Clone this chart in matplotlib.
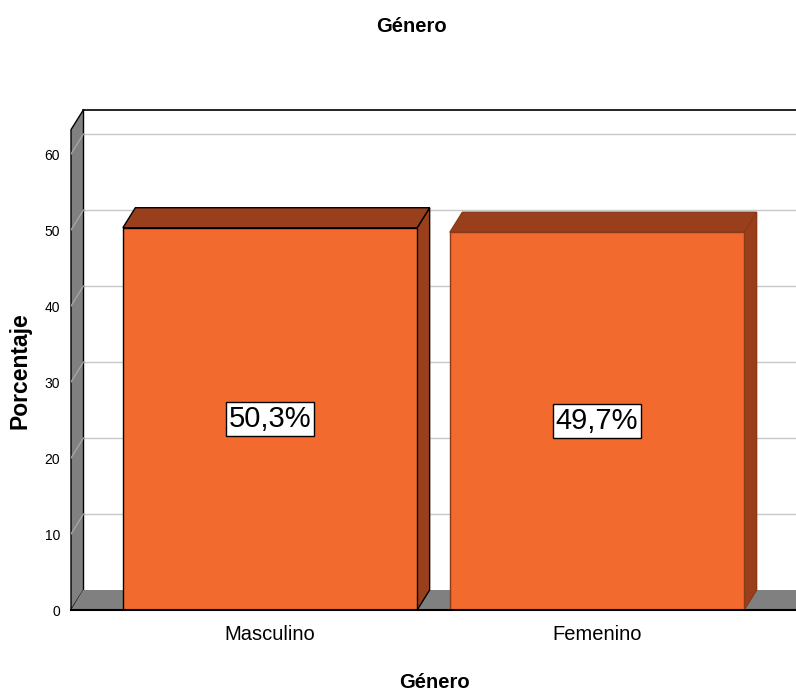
import matplotlib

matplotlib.use("Agg")
import matplotlib.pyplot as plt
from matplotlib.patches import Polygon, Rectangle

categories = ["Masculino", "Femenino"]
percentages = [50.3, 49.7]
value_labels = ["50,3%", "49,7%"]
y_ticks = [0, 10, 20, 30, 40, 50, 60]

_FRONT = "#f26a2d"
_SHADE = "#9a3f1c"
_WALL = "#808080"
_GRID = "#c8c8c8"
_EDGES = ["#000000", "#8a3a18"]

plt.rcParams["font.family"] = ["Liberation Sans", "DejaVu Sans"]

W, H = 796, 693
px_per_unit = 7.6          # pixels per percentage point
ytop = 500 / px_per_unit   # axes height in data units
wall_top = 63.2
bar_w = 0.9
x0, x1 = -0.6086, 1.6086
dx = 12.5 / 327            # depth offset in x units
dy = 20 / px_per_unit      # depth offset in y units

fig = plt.figure(figsize=(W / 100, H / 100), dpi=100)
ax = fig.add_axes([71 / W, 83 / H, (W - 71) / W, 500 / H])
ax.set_xlim(x0, x1)
ax.set_ylim(0, ytop)
for s in ax.spines.values():
    s.set_visible(False)

# back wall grid lines
for v in y_ticks[1:]:
    ax.plot([x0 + dx, x1 + 1], [v + dy, v + dy], color=_GRID, lw=1.0, zorder=1,
            clip_on=False)
ax.plot([x0 + dx, x1 + 1], [wall_top + dy, wall_top + dy], color="black", lw=1.2,
        zorder=1, clip_on=False)

# side wall and floor
ax.add_patch(Polygon([(x0, 0), (x0 + dx, dy), (x0 + dx, wall_top + dy), (x0, wall_top)],
                     closed=True, facecolor=_WALL, edgecolor="black", lw=1.0, zorder=2,
                     clip_on=False))
for v in y_ticks[1:]:
    ax.plot([x0, x0 + dx], [v, v + dy], color="#a8a8a8", lw=0.9, zorder=3)
ax.add_patch(Polygon([(x0, 0), (x1 + 1, 0), (x1 + 1, dy), (x0 + dx, dy)],
                     closed=True, facecolor=_WALL, edgecolor="none", zorder=2,
                     clip_on=False))
ax.plot([x0, x1 + 1], [0, 0], color="black", lw=1.5, zorder=6, clip_on=False)

# bars
for i, (v, lab) in enumerate(zip(percentages, value_labels)):
    left, right = i - bar_w / 2, i + bar_w / 2
    ec = _EDGES[i]
    ax.add_patch(Polygon([(right, 0), (right + dx, dy), (right + dx, v + dy), (right, v)],
                         closed=True, facecolor=_SHADE, edgecolor=ec, lw=1.0, zorder=4,
                         clip_on=False))
    ax.add_patch(Polygon([(left, v), (right, v), (right + dx, v + dy), (left + dx, v + dy)],
                         closed=True, facecolor=_SHADE, edgecolor=ec, lw=1.0, zorder=4,
                         clip_on=False))
    ax.add_patch(Rectangle((left, 0), bar_w, v, facecolor=_FRONT, edgecolor=ec, lw=1.0,
                           zorder=5))
    ax.text(i, v / 2, lab, ha="center", va="center", fontsize=21, zorder=7,
            bbox={"boxstyle": "square,pad=0.1", "facecolor": "white",
                  "edgecolor": "black", "lw": 1.0})

ax.set_yticks(y_ticks)
ax.set_yticklabels([str(t) for t in y_ticks], fontsize=10)
ax.set_xticks(range(len(categories)))
ax.set_xticklabels(categories, fontsize=14.5)
ax.tick_params(axis="y", length=0, pad=8)
ax.tick_params(axis="x", length=0, pad=11)

fig.text(411 / W, 1 - 27 / H, "Género", ha="center", va="center", fontsize=14.5,
         fontweight="bold")
fig.text(434 / W, 1 - 683 / H, "Género", ha="center", va="center", fontsize=14.5,
         fontweight="bold")
fig.text(20 / W, 1 - 371 / H, "Porcentaje", ha="center", va="center", fontsize=16.5,
         fontweight="bold", rotation=90)

fig.savefig("out.png", dpi=100)
